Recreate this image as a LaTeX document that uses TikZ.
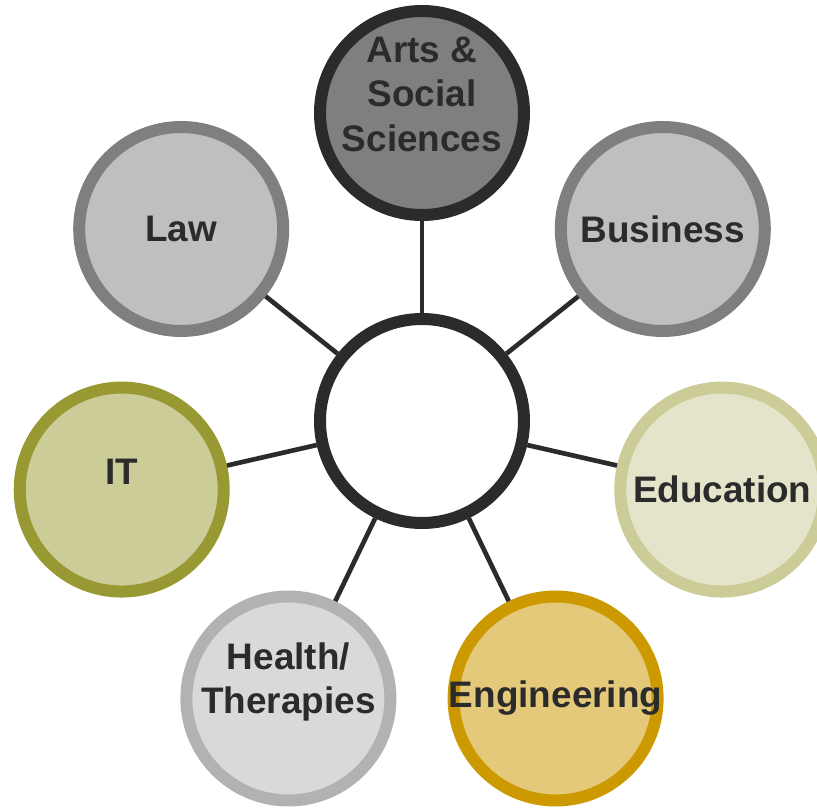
\documentclass[tikz,border=0pt]{standalone}
\usepackage{fontspec}
\setmainfont{Liberation Sans}
\usetikzlibrary{positioning}

\definecolor{ink}{HTML}{2B2B2B}
\definecolor{artsfill}{HTML}{7F7F7F}
\definecolor{greyfill}{HTML}{BFBFBF}
\definecolor{greyline}{HTML}{7F7F7F}
\definecolor{edufill}{HTML}{E4E4CB}
\definecolor{eduline}{HTML}{CCCC99}
\definecolor{engfill}{HTML}{E5C97B}
\definecolor{engline}{HTML}{CC9900}
\definecolor{healthfill}{HTML}{D9D9D9}
\definecolor{healthline}{HTML}{B2B2B2}
\definecolor{itfill}{HTML}{CCCC99}
\definecolor{itline}{HTML}{999933}

\begin{document}
\begin{tikzpicture}[
  area/.style={circle, line width=0.36cm, minimum size=6.12cm, inner sep=0pt},
  caption/.style={text=ink, font=\bfseries\fontsize{31.5}{38}\selectfont, align=center},
  link/.style={draw=ink, line width=0.14cm}]
\useasboundingbox (-12.66,-11.58) rectangle (11.85,12.63);

\path (0,0) node[area, draw=ink, fill=white] (hub) {};

\path (90:9.24) node[area, draw=ink, fill=artsfill] (arts) {};
\path (38.57:9.24) node[area, draw=greyline, fill=greyfill] (business) {};
\path (-12.86:9.24) node[area, draw=eduline, fill=edufill] (education) {};
\path (-64.29:9.24) node[area, draw=engline, fill=engfill] (engineering) {};
\path (-115.71:9.24) node[area, draw=healthline, fill=healthfill] (health) {};
\path (-167.14:9.24) node[area, draw=itline, fill=itfill] (it) {};
\path (141.43:9.24) node[area, draw=greyline, fill=greyfill] (law) {};

\draw[link] (hub) -- (arts);
\draw[link] (hub) -- (business);
\draw[link] (hub) -- (education);
\draw[link] (hub) -- (engineering);
\draw[link] (hub) -- (health);
\draw[link] (hub) -- (it);
\draw[link] (hub) -- (law);

\path (arts.center) node[caption, yshift=0.56cm] (arts-txt) {Arts \&\\Social\\Sciences};
\path (business.center) node[caption] (business-txt) {Business};
\path (education.center) node[caption] (education-txt) {Education};
\path (engineering.center) node[caption] (engineering-txt) {Engineering};
\path (health.center) node[caption, yshift=0.5cm] (health-txt) {Health/\\Therapies};
\path (it.center) node[caption, yshift=0.54cm] (it-txt) {IT};
\path (law.center) node[caption] (law-txt) {Law};
\end{tikzpicture}
\end{document}
